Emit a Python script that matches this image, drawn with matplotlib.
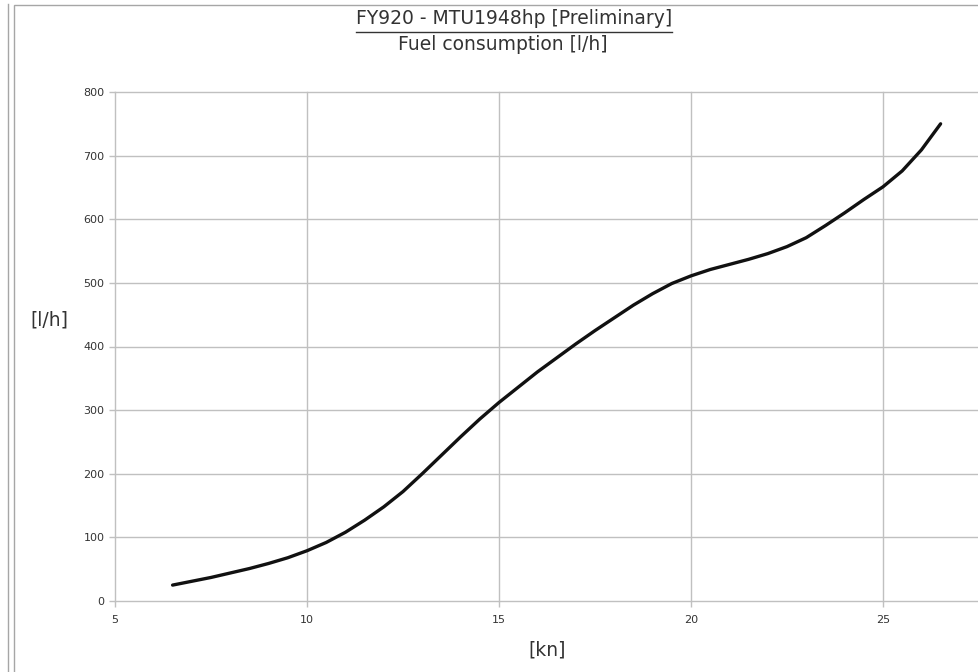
import matplotlib
matplotlib.use("Agg")
import matplotlib.pyplot as plt
from matplotlib.lines import Line2D
from matplotlib.patches import Rectangle

# speed [kn] vs fuel consumption [l/h]
speed = [6.5, 7, 7.5, 8, 8.5, 9, 9.5, 10, 10.5, 11, 11.5, 12, 12.5, 13,
         13.5, 14, 14.5, 15, 15.5, 16, 16.5, 17, 17.5, 18, 18.5, 19, 19.5,
         20, 20.5, 21, 21.5, 22, 22.5, 23, 23.5, 24, 24.5, 25, 25.5, 26, 26.5]
fuel = [25, 31, 37, 44, 51, 59, 68, 79, 92, 108, 127, 148, 172, 200,
        229, 258, 286, 312, 336, 360, 382, 404, 425, 445, 465, 483, 499,
        511, 521, 529, 537, 546, 557, 571, 590, 610, 631, 651, 676, 709, 750]

x_ticks = [5, 10, 15, 20, 25]
y_ticks = [0, 100, 200, 300, 400, 500, 600, 700, 800]

title = "FY920 - MTU1948hp [Preliminary]"
subtitle = "Fuel consumption [l/h]"

W, H = 979, 672
fig = plt.figure(figsize=(W / 100, H / 100), dpi=100)
ax = fig.add_axes([115 / W, 1 - 601 / H, 1 - 115 / W, (601 - 92) / H])

ax.plot(speed, fuel, color="#111111", lw=2.4, solid_capstyle="round",
        solid_joinstyle="round", zorder=3)

ax.set_xlim(5, 27.5)
ax.set_ylim(0, 800)
ax.set_xticks(x_ticks)
ax.set_yticks(y_ticks)
ax.grid(True, color="#c0c0c0", lw=1)
for gl in ax.get_xgridlines() + ax.get_ygridlines():
    gl.set_clip_on(False)
for s in ax.spines.values():
    s.set_visible(False)
ax.tick_params(axis="both", colors="#c0c0c0", labelcolor="#333333",
               labelsize=8, length=4, width=1)
ax.tick_params(axis="x", pad=6)

# titles
txt = "#333333"
t = fig.text(514 / W, 1 - 19 / H, title, ha="center", va="center",
             fontsize=13.5, color=txt)
fig.text(503 / W, 1 - 44.5 / H, subtitle, ha="center", va="center",
         fontsize=13.5, color=txt)
fig.text(49 / W, 1 - 320 / H, "[l/h]", ha="center", va="center",
         fontsize=13.5, color=txt)
fig.text(547 / W, 1 - 650 / H, "[kn]", ha="center", va="center",
         fontsize=13.5, color=txt)

# underline the title
fig.canvas.draw()
bb = t.get_window_extent()
uy = 1 - 32 / H
fig.add_artist(Line2D([bb.x0 / W, bb.x1 / W], [uy, uy], color=txt, lw=1.0))

# chart frame
frame = "#a6a6a6"
fig.add_artist(Line2D([8.5 / W, 8.5 / W], [0, 1 - 4 / H], color=frame, lw=1))
fig.add_artist(Rectangle((14.5 / W, -0.01), 1, 1 - 4.5 / H + 0.01,
                         fill=False, edgecolor=frame, lw=1))

fig.savefig("out.png", dpi=100)
